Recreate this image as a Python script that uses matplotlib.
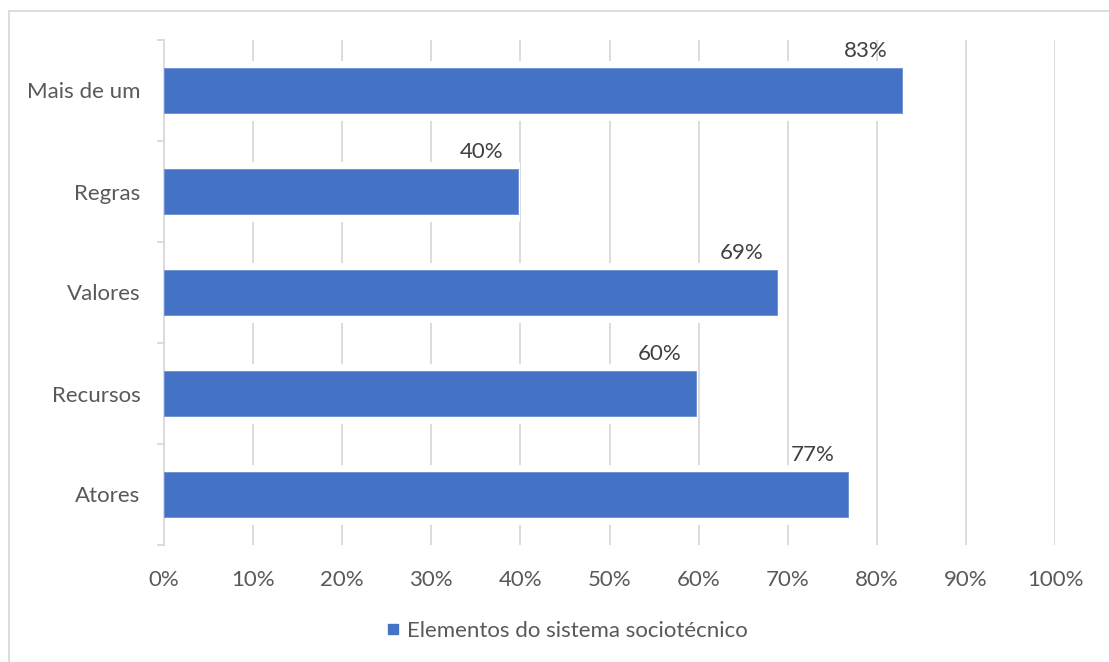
import matplotlib.pyplot as plt
from matplotlib.patches import Rectangle
from matplotlib.lines import Line2D

# Data (bottom to top)
categories = ['Atores', 'Recursos', 'Valores', 'Regras', 'Mais de um']
values = [76.8, 59.7, 68.8, 39.7, 82.8]
value_labels = ['77%', '60%', '69%', '40%', '83%']
series_name = 'Elementos do sistema sociotécnico'
x_ticks = [0, 10, 20, 30, 40, 50, 60, 70, 80, 90, 100]

BLUE = '#4472C4'
GRID = '#d9d9d9'
TEXT = '#595959'
plt.rcParams['font.family'] = ['Lato', 'DejaVu Sans']

W, H = 1109, 662
fig = plt.figure(figsize=(W / 100, H / 100), dpi=100)
ax = fig.add_axes([164 / W, (H - 545) / H, (1055 - 164) / W, (545 - 40) / H])

# outer chart border (only top/left visible)
fig.patches.append(Rectangle((9 / W, -0.1), 1.2, (H - 11) / H + 0.1,
                             transform=fig.transFigure, fill=False,
                             edgecolor=GRID, linewidth=1.3))

pos = list(range(len(categories)))
bar_h = 0.455

# vertical gridlines
for t in x_ticks[1:]:
    ax.axvline(t, color=GRID, linewidth=1.3, zorder=1)

# white halo behind bars, then the bars
ax.barh(pos, values, height=bar_h + 0.1, color='white', edgecolor='white',
        linewidth=2, zorder=2)
ax.barh(pos, values, height=bar_h, color=BLUE, edgecolor='#6b8fd3',
        linewidth=0.6, zorder=3)

for p, v, lab in zip(pos, values, value_labels):
    ax.annotate(lab, (v, p + bar_h / 2), xytext=(-14, 7),
                textcoords='offset pixels', ha='right', va='bottom',
                fontsize=16, color='#404040', zorder=4)

ax.set_xlim(0, 100)
ax.set_ylim(-0.5, len(categories) - 0.5)
ax.set_xticks(x_ticks)
ax.set_xticklabels([f'{t}%' for t in x_ticks])
ax.set_yticks(pos)
ax.set_yticklabels(categories)
ax.tick_params(axis='x', length=0, pad=18, labelsize=16, labelcolor=TEXT)
ax.tick_params(axis='y', length=0, pad=17, labelsize=16, labelcolor=TEXT)

for s in ['top', 'right', 'bottom']:
    ax.spines[s].set_visible(False)
ax.spines['left'].set_color(GRID)
ax.spines['left'].set_linewidth(1.3)

# category boundary tick marks on the y axis
for b in [i - 0.5 for i in range(len(categories) + 1)]:
    ax.plot([-0.8, 0], [b, b], color=GRID, linewidth=1.3, clip_on=False,
            solid_capstyle='butt', zorder=1)

handle = Line2D([], [], marker='s', linestyle='none', markersize=7,
                markerfacecolor=BLUE, markeredgecolor=BLUE)
fig.legend([handle], [series_name], loc='center',
           bbox_to_anchor=(566 / W, (H - 631) / H), frameon=False,
           fontsize=16, labelcolor=TEXT, handletextpad=0.2,
           handlelength=0.8)

fig.savefig('out.png', dpi=100, facecolor='white')
